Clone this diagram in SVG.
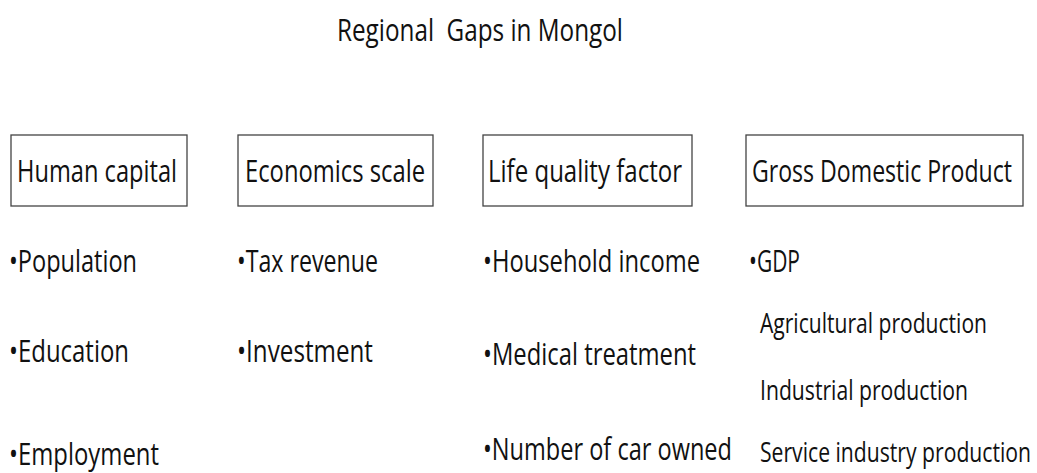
<svg xmlns="http://www.w3.org/2000/svg" width="1037" height="473" viewBox="0 0 1037 473">
  <style>
    text { font-family: "Open Sans", "Noto Sans", "Liberation Sans", sans-serif; fill: #111; }
    .title { font-size: 24.4px; }
    .head { font-size: 23.4px; }
    .item { font-size: 23.5px; }
    .sub { font-size: 21px; }
    .box { fill: #fff; stroke: #444; stroke-width: 1.3; }
  </style>
  <rect width="1037" height="473" fill="#fff"/>

  <!-- all labels use a tall, narrow letterform: each is placed at its baseline and stretched 1.3x vertically -->
  <text class="title" transform="translate(337 41) scale(1 1.3)" textLength="286" lengthAdjust="spacingAndGlyphs" xml:space="preserve">Regional  Gaps in Mongol</text>

  <!-- category boxes -->
  <g id="human-capital">
    <rect class="box" x="11" y="135" width="176" height="71"/>
    <text class="head" transform="translate(17 182) scale(1 1.3)" textLength="160" lengthAdjust="spacingAndGlyphs">Human capital</text>
  </g>
  <g id="economics-scale">
    <rect class="box" x="238" y="135" width="195" height="71"/>
    <text class="head" transform="translate(245 182) scale(1 1.3)" textLength="180" lengthAdjust="spacingAndGlyphs">Economics scale</text>
  </g>
  <g id="life-quality">
    <rect class="box" x="483" y="135" width="209" height="71"/>
    <text class="head" transform="translate(488 182) scale(1 1.3)" textLength="194" lengthAdjust="spacingAndGlyphs">Life quality factor</text>
  </g>
  <g id="gdp">
    <rect class="box" x="746" y="135" width="277" height="71"/>
    <text class="head" transform="translate(752 182) scale(1 1.3)" textLength="260" lengthAdjust="spacingAndGlyphs">Gross Domestic Product</text>
  </g>

  <!-- indicator lists -->
  <g id="human-capital-items">
    <text class="item" transform="translate(9 272) scale(1 1.3)" textLength="128" lengthAdjust="spacingAndGlyphs">•Population</text>
    <text class="item" transform="translate(9 362) scale(1 1.3)" textLength="120" lengthAdjust="spacingAndGlyphs">•Education</text>
    <text class="item" transform="translate(9 465) scale(1 1.3)" textLength="150" lengthAdjust="spacingAndGlyphs">•Employment</text>
  </g>
  <g id="economics-scale-items">
    <text class="item" transform="translate(237 272) scale(1 1.3)" textLength="141" lengthAdjust="spacingAndGlyphs">•Tax revenue</text>
    <text class="item" transform="translate(237 362) scale(1 1.3)" textLength="136" lengthAdjust="spacingAndGlyphs">•Investment</text>
  </g>
  <g id="life-quality-items">
    <text class="item" transform="translate(483 272) scale(1 1.3)" textLength="217" lengthAdjust="spacingAndGlyphs">•Household income</text>
    <text class="item" transform="translate(483 365) scale(1 1.3)" textLength="213" lengthAdjust="spacingAndGlyphs">•Medical treatment</text>
    <text class="item" transform="translate(483 460) scale(1 1.3)" textLength="249" lengthAdjust="spacingAndGlyphs">•Number of car owned</text>
  </g>
  <g id="gdp-items">
    <text class="item" transform="translate(749 272) scale(1 1.3)" textLength="51" lengthAdjust="spacingAndGlyphs">•GDP</text>
    <text class="sub" transform="translate(760 333) scale(1 1.3)" textLength="227" lengthAdjust="spacingAndGlyphs">Agricultural production</text>
    <text class="sub" transform="translate(760 400) scale(1 1.3)" textLength="208" lengthAdjust="spacingAndGlyphs">Industrial production</text>
    <text class="sub" transform="translate(760 462) scale(1 1.3)" textLength="271" lengthAdjust="spacingAndGlyphs">Service industry production</text>
  </g>

  <g id="connectors"></g>
</svg>
